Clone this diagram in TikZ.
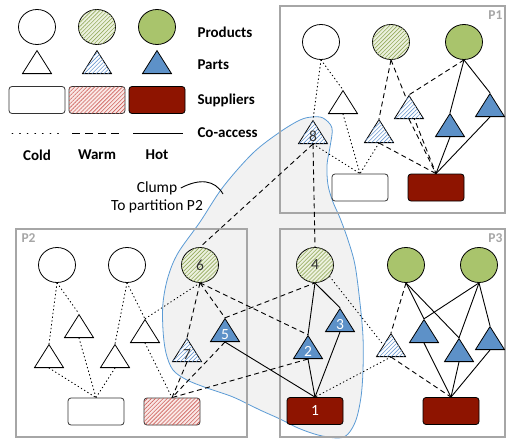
\documentclass[tikz,border=0pt]{standalone}
\usepackage{fontspec}
\setmainfont{Carlito}
\usetikzlibrary{shapes.geometric,patterns.meta,backgrounds}

\definecolor{prodgreen}{RGB}{169,196,108}
\definecolor{prodbg}{RGB}{236,241,222}
\definecolor{prodline}{RGB}{150,172,95}
\definecolor{partblue}{RGB}{93,145,200}
\definecolor{partline}{RGB}{110,155,210}
\definecolor{suppred}{RGB}{142,20,0}
\definecolor{suppbg}{RGB}{250,232,230}
\definecolor{suppline}{RGB}{205,95,90}
\definecolor{clumpblue}{RGB}{91,155,213}
\definecolor{boxgray}{RGB}{166,166,166}

\begin{document}
\begin{tikzpicture}[x=1pt, y=-1pt, font=\fontsize{15.5}{18}\selectfont,
    prod/.style={ellipse, draw, line width=.8pt, minimum width=37pt, minimum height=35pt, inner sep=0pt},
    part/.style={isosceles triangle, isosceles triangle apex angle=64, isosceles triangle stretches,
        shape border rotate=90, draw, line width=.8pt, minimum width=29pt, minimum height=23pt,
        inner sep=0pt, anchor=lower side},
    supp/.style={draw, line width=.8pt, rounded corners=3pt, minimum width=56pt, minimum height=27pt, inner sep=0pt},
    partition/.style={draw=boxgray, line width=1.4pt},
    link/.style={line width=.9pt}]
    \tikzset{hatched/.style={postaction={pattern={Lines[angle=45,distance=2.8pt,line width=.6pt]}, pattern color=#1}}}
    \tikzset{prodcold/.style={prod, fill=white}, prodwarm/.style={prod, fill=prodbg, hatched=prodline, text=black!80},
        prodhot/.style={prod, fill=prodgreen},
        partcold/.style={part, fill=white}, partwarm/.style={part, fill=white, hatched=partline, text=black!80},
        parthot/.style={part, fill=partblue, text=white},
        suppcold/.style={supp, draw=black!80, fill=white}, suppwarm/.style={supp, draw=black!80, fill=suppbg, hatched=suppline},
        supphot/.style={supp, fill=suppred, text=white}}
    \tikzset{cold/.style={link, dash pattern=on .8pt off 3pt, line cap=round},
        warm/.style={link, dash pattern=on 5pt off 3.5pt},
        hot/.style={link}}
    \useasboundingbox (0,0) rectangle (507,439);

    \node[anchor=north east, text=boxgray, font=\fontsize{13.5}{15}\selectfont\bfseries] (lp1) at (506,7) {P1};
    \node[anchor=north west, text=boxgray, font=\fontsize{13.5}{15}\selectfont\bfseries] (lp2) at (18,230) {P2};
    \node[anchor=north east, text=boxgray, font=\fontsize{13.5}{15}\selectfont\bfseries] (lp3) at (506,230) {P3};

    % legend
    \foreach \x/\h/\lab in {37/cold/Cold, 97/warm/Warm, 157/hot/Hot} {
        \node[prod\h] (legprod\h) at (\x,27) {};
        \node[part\h] (legpart\h) at (\x,74) {};
        \node[supp\h] (legsupp\h) at (\x,100) {};
        \node[font=\fontsize{15}{18}\selectfont\bfseries] (legtext\h) at (\x,155) {\lab};
    }
    \draw[cold, dash pattern=on .8pt off 6.8pt] (12,133) -- (60,133);
    \draw[warm, dash pattern=on 8pt off 5pt] (72,133) -- (123,133);
    \draw[hot] (133,133) -- (183,133);
    \foreach \y/\t in {32/Products, 65/Parts, 100/Suppliers, 133/Co-access}
        \node[anchor=west, font=\fontsize{15}{18}\selectfont\bfseries] (leg\t) at (194,\y) {\t};

    \node (clumptext) at (157,188) {Clump};
    \node (clumpsub) at (157,206) {To partition P2};
    \coordinate (clumpedge) at (223,194);
    \draw[line width=.9pt] (clumptext.east) .. controls (200,178) and (215,180) .. (clumpedge);

    % P1
    \node[prodcold] (p1a) at (321,42) {};
    \node[prodwarm] (p1b) at (391,42) {};
    \node[prodhot] (p1c) at (464,42) {};
    \node[partcold] (p1t1) at (343,114) {};
    \node[partwarm] (p1t2) at (409,119) {};
    \node[partwarm] (n8) at (313,144) {8};
    \node[partwarm] (p1t3) at (379,143) {};
    \node[parthot] (p1t4) at (450,137) {};
    \node[parthot] (p1t5) at (490,117) {};
    \node[suppcold] (p1s1) at (360,187.5) {};
    \node[supphot] (p1s2) at (436,187.5) {};

    % P2
    \node[prodcold] (p2a) at (57,265) {};
    \node[prodcold] (p2b) at (127,265) {};
    \node[prodwarm] (n6) at (200,265) {6};
    \node[partcold] (p2t1) at (79,338) {};
    \node[partcold] (p2t2) at (49,368) {};
    \node[partcold] (p2t3) at (115,368) {};
    \node[partcold] (p2t4) at (145,343) {};
    \node[partwarm] (n7) at (187,362) {7};
    \node[parthot] (n5) at (225,342) {5};
    \node[suppcold] (p2s1) at (96,411.5) {};
    \node[suppwarm] (p2s2) at (172,411.5) {};

    % P3
    \node[prodwarm] (n4) at (315,265) {4};
    \node[prodhot] (p3a) at (406,265) {};
    \node[prodhot] (p3b) at (479,265) {};
    \node[parthot] (n3) at (340,332) {3};
    \node[parthot] (n2) at (308,359) {2};
    \node[partwarm] (p3t1) at (391,357) {};
    \node[parthot] (p3t2) at (424,343) {};
    \node[parthot] (p3t3) at (459,362) {};
    \node[parthot] (p3t4) at (490,350) {};
    \node[supphot] (n1) at (315,411) {1};
    \node[supphot] (p3s1) at (451,411) {};

    \begin{scope}[on background layer]
    % the clump, under everything
    \filldraw[fill=black!5, draw=clumpblue, line width=.8pt] plot[smooth cycle, tension=.55] coordinates {
        (312,117) (323,118) (332,128) (330,147) (327,165) (328,185) (333,202) (340,218) (348,240)
        (355,265) (360,303) (363,337) (363,370) (361,397) (356,420) (348,434) (338,438) (318,435)
        (298,428) (280,419) (260,410) (233,397) (207,388) (187,380) (173,370) (166,353) (163,330)
        (163,303) (168,277) (178,253) (200,222) (223,187) (253,153) (280,132) (300,120)};

    % partitions
    \draw[partition] (280,6) rectangle (505,213);
    \draw[partition] (16,229) rectangle (247,437);
    \draw[partition] (280,229) rectangle (505,437);

    % co-access links
    \foreach \a/\b in {p1a/n8, p1a/p1t1, p2a/p2t2, p2a/p2t1, p2b/p2t3, p2b/p2t4, n6/p2t4}
        \draw[cold] (\a.south) -- (\b.apex);
    \foreach \a/\b in {p1t1/p1s1, n8/p1s1, p1t3/p1s1, p2t2/p2s1, p2t1/p2s1, p2t3/p2s1, p2t4/p2s2, p3t1/n1}
        \draw[cold] (\a.lower side) -- (\b.north);
    \draw[cold] (n4.-38) -- (p3t1.left side);

    \foreach \a/\b in {p1b/p1t3, p1c/p1t2, n6/n7, n6/n5, n6/n2, p3a/p3t1}
        \draw[warm] (\a.south) -- (\b.apex);
    \foreach \a/\b in {p1b/p1s2}
        \draw[warm] (\a.south) -- (\b.north);
    \foreach \a/\b in {p1t2/p1s2, p1t3/p1s2, n8/n4, n8/n6, n7/p2s2, n5/p2s2, n2/p2s2, p3t1/p3s1}
        \draw[warm] (\a.lower side) -- (\b.north);
    \draw[warm] (n5.apex) -- (n4.south);

    \foreach \a/\b in {p1c/p1t4, p1c/p1t5, n4/n2, n4/n3, p3a/p3t2, p3a/p3t3, p3b/p3t2, p3b/p3t3, p3b/p3t4}
        \draw[hot] (\a.south) -- (\b.apex);
    \foreach \a/\b in {p1t4/p1s2, p1t5/p1s2, n5/n1, n2/n1, n3/n1, p3t2/p3s1, p3t3/p3s1, p3t4/p3s1}
        \draw[hot] (\a.lower side) -- (\b.north);
    \end{scope}
\end{tikzpicture}
\end{document}
